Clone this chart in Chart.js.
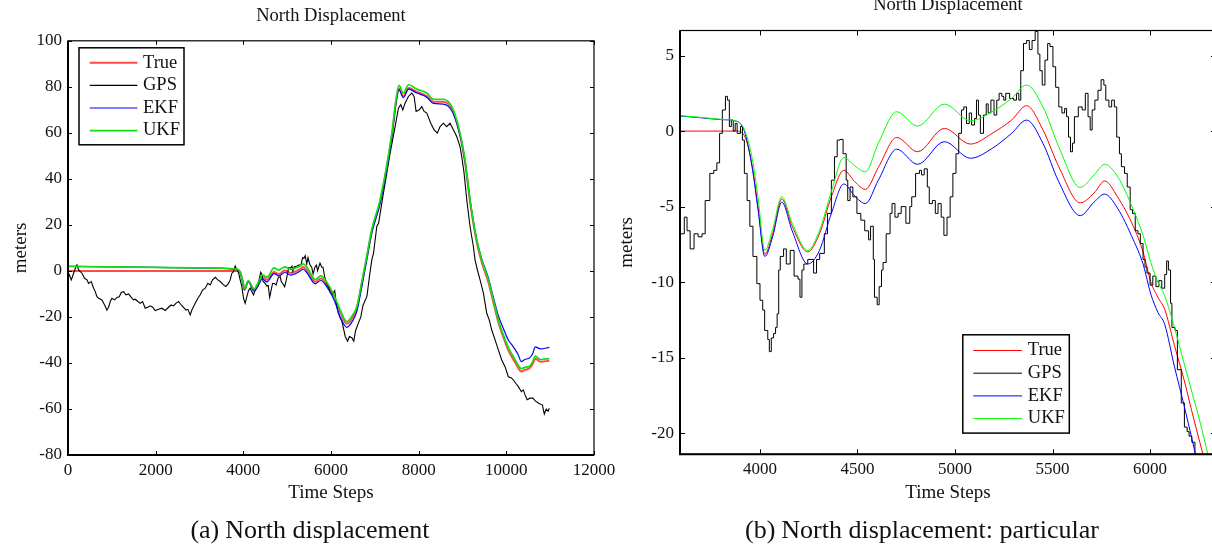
<!DOCTYPE html>
<html>
<head>
<meta charset="utf-8">
<script src="https://cdn.jsdelivr.net/npm/chart.js@4.4.1/dist/chart.umd.min.js"></script>
<style>
  html, body { margin: 0; padding: 0; background: #fff; }
  body { width: 1212px; height: 550px; overflow: hidden; position: relative; }
  canvas { position: absolute; }
  #left { left: 0; top: 0; }
  #right { left: 600px; top: -10px; }
  .cap { position: absolute; font-family: 'Liberation Serif', serif; font-size: 26px; color: #111; white-space: nowrap; transform: translate(-50%, -50%); }
  .cap span { margin-right: 6px; }
</style>
</head>
<body>
<canvas id="left" width="662" height="550"></canvas>
<canvas id="right" width="696" height="560"></canvas>
<div class="cap" style="left:310px; top:530px"><span>(a)</span>North displacement</div>
<div class="cap" style="left:922px; top:530px"><span>(b)</span>North displacement: particular</div>
<script>
const seriesLabels = ['True', 'GPS', 'EKF', 'UKF']

// left panel: whole run
const leftXTicks = [0, 2000, 4000, 6000, 8000, 10000, 12000]
const leftYTicks = [-80, -60, -40, -20, 0, 20, 40, 60, 80, 100]

const leftGpsX = [0,30,75,128,182,204,242,280,318,379,432,470,531,584,622,660,698,774,835,888,
  926,964,1002,1063,1116,1170,1215,1268,1321,1382,1443,1496,1534,1595,1648,1702,1762,1823,1876,1930,
  1990,2066,2142,2218,2294,2355,2408,2461,2522,2583,2636,2690,2735,2788,2826,2902,2963,3016,3069,3130,
  3191,3244,3298,3358,3419,3472,3548,3601,3662,3700,3738,3776,3814,3852,3890,3928,3966,4004,4042,4080,
  4118,4156,4194,4232,4270,
  4330,4366,4396,4426,4450,4497,4537,4567,4601,4631,4667,4708,4748,4798,4842,4868,4899,4943,4975,5005,
  5033,5073,5110,5130,5160,5214,5260,5315,5351,5381,5411,5447,5475,5516,5562,5592,5632,5668,5693,5749,
  5789,5817,5853,5898,5938,5984,6030,6085,6112,6160,6214,
  6250,6325,6380,6420,6475,6520,6560,6625,6680,6730,6820,6880,6931,6970,7045,7085,7196,7349,7463,7538,
  7592,7638,7690,7766,7843,7896,7941,8017,8071,8124,8185,8276,8352,8427,8488,8564,8641,8716,8792,8868,
  8944,8983,9036,9097,9172,9248,9286,9340,9401,9477,9553,9610,9667,9743,9818,9895,9970,10046,10120,10160,
  10214,10274,10344,10388,10440,10475,10540,10605,10660,10736,10790,10823,10866,10910,10953,10980]
const leftGps = [-3.2,-1.7,-3.9,-1.0,1.9,2.6,0.4,-0.3,-1.0,-3.2,-3.9,-5.4,-4.6,-7.5,-9.0,-11.2,-11.9,-12.6,-14.8,-17.0,
  -15.8,-13.3,-11.9,-12.6,-11.5,-11.2,-9.4,-9.0,-10.4,-10.0,-11.5,-12.6,-12.3,-13.3,-14.1,-13.3,-16.2,-15.8,-15.2,-15.8,
  -17.2,-16.7,-16.2,-17.2,-15.8,-14.8,-15.2,-14.1,-13.3,-14.8,-15.8,-17.0,-16.7,-19.1,-17.0,-14.1,-11.9,-10.4,-8.3,-7.5,
  -5.4,-6.1,-3.9,-2.8,-3.9,-4.6,-6.1,-6.8,-5.4,-3.9,-1.0,-0.3,2.2,0.4,-0.7,-3.9,-6.8,-11.9,-14.1,-11.2,
  -8.6,-7.5,-9.0,-10.4,-8.3,
  -6.8,-3.25,-0.6,-1.5,-4.6,-5.45,-6.6,-6.3,-11.5,-8.7,-5.45,-5.45,-6.1,-2.8,-2.5,-4.8,-5.45,-6.9,-4.35,-1.5,
  1.4,1.2,2.05,-0.15,1.8,2.05,2.5,2.5,5.8,5.4,6.6,3.05,5.8,2.9,1.5,-1.37,1.6,2.5,0.07,3.4,
  1.6,1.6,-2.36,-5.2,-6.8,-9.4,-10.3,-8.6,-13.0,-18.0,-20.6,
  -22,-28.5,-30.5,-28.5,-29,-30.5,-26,-22.7,-20,-15,-11,-2,4.8,7.7,19.3,20.7,33.8,51.2,62.7,70.7,
  72.2,70,72.9,75.8,77.3,75.8,69.3,70,71.4,69.3,68.6,64.2,61.3,59.9,62.7,64.2,62.7,64.2,61.3,58.4,
  54,49.7,42.5,30.9,19.3,10.6,4.8,0.4,-3.9,-9.7,-18.4,-21.3,-25.7,-30,-34.3,-38.7,-41.6,-46,-46.5,-47.4,
  -48.8,-50.3,-52.5,-51.7,-54.5,-56,-55.3,-55.3,-56.5,-57.5,-58,-58.3,-62.2,-60,-61,-59.7]

const leftSmoothX = [0,1000,2000,3000,3850, 3920,3990,4025,4112,4245, 4366,4430,4540,4701,4808,
  4945,5079,5290,5367,5451, 5642,5767,5914,6075,6215, 6360,6500,6590,6700,6802,
  6930,7121,7390,7480,7550, 7650,7770,7957,8185,8336, 8563,8677,8791,8944,9058,
  9172,9325,9439,9590,9704, 9818,9932,10046,10160,10274, 10340,10420,10530,10600,10660, 10780,10980]
const leftTrue = [0,0,0,0,0, -0.4,-5.0,-8.15,-4.5,-8.0, -4.35,-2.6,-3.86,-0.42,-1.37,
  0.18,-0.86,0.73,1.68,0.07, -4.75,-3.3,-6.3,-11.8,-18.0, -23.0,-20.0,-16.3,-6.0,4.0,
  17.0,30.0,59.0,73.0,79.3, 75.8,79.5,77.8,76.0,73.5, 73.5,72.5,69.0,59.0,47.3,
  30.0,12.5,3.8,-4.9,-13.6, -22.3,-28.8,-34.5,-38.5,-42.2, -43.7,-43.0,-42.3,-40.5,-38.2, -39.5,-39.0]
const leftEkf = [2.0,1.75,1.5,1.25,0.7, -0.3,-5.3,-8.3,-4.7,-8.8, -5.45,-3.5,-4.8,-1.2,-2.2,
  -0.7,-1.8,-0.15,0.73,-0.82, -5.6,-4.17,-7.2,-12.8,-20.2, -24.5,-21.5,-17.5,-7.0,3.5,
  16.5,29.5,58.5,72.5,78.8, 75.3,79.0,77.3,75.5,72.8, 72.5,71.5,68.3,58.8,47.5,
  30.8,13.5,5.2,-3.0,-11.5, -19.5,-25.0,-30.0,-33.0,-36.5, -39.4,-38.5,-37.8,-36.0,-33.0, -33.9,-33.2]
const leftUkf = [2.0,1.78,1.55,1.3,0.75, -0.2,-4.6,-7.9,-4.35,-7.9, -4.0,-1.75,-2.7,1.28,0.33,
  1.79,0.68,2.16,3.05,1.6, -3.73,-2.2,-5.2,-10.8,-17.2, -22.0,-19.0,-15.5,-5.0,5.0,
  18.0,31.0,60.0,74.0,80.6, 77.3,80.9,79.0,77.3,74.6, 74.6,73.6,70.0,59.9,48.3,
  30.9,13.5,4.8,-3.9,-12.6, -21.3,-27.8,-33.3,-37.2,-41.0, -42.5,-41.9,-41.4,-39.5,-37.0, -38.5,-38.1]

// right panel: detail around 3600..6300
const rightXTicks = [4000, 4500, 5000, 5500, 6000]
const rightYTicks = [-20, -15, -10, -5, 0, 5]

const rightGpsX = [3592,3612,3626,3642,3662,3683,3703,3719,3743,3763, 3779,3793,3807,3823,3833,3843,3853,3863,3873,3883,
  3900,3910,3920,3934,3948,3964,3984,4000,4014,4024, 4040,4048,4058,4070,4080,4088,4096,4104,4121,4135,
  4155,4175,4195,4205,4215,4225,4245,4275,4290,4306, 4330,4346,4366,4382,4396,4410,4426,4442,4450,4462,
  4476,4497,4517,4537,4557,4567,4581,4587,4601,4611, 4623,4631,4647,4667,4677,4692,4708,4724,4748,4768,
  4778,4798,4818,4828,4842,4858,4868,4884,4899,4913, 4929,4943,4959,4975,4989,5005,5019,5033,5045,5059,
  5073,5085,5100,5110,5120,5130,5146,5160,5170,5184, 5200,5214,5226,5240,5250,5260,5280,5301,5315,5327,
  5337,5351,5367,5381,5395,5411,5425,5435,5447,5461, 5475,5487,5502,5516,5532,5548,5562,5572,5582,5592,
  5602,5612,5632,5652,5668,5682,5693,5703,5717,5733, 5749,5763,5773,5789,5803,5817,5829,5843,5853,5869,
  5883,5898,5910,5924,5938,5950,5964,5974,5984,6000, 6014,6030,6045,6060,6075,6085,6094,6105,6112,6128,
  6140,6160,6176,6190,6200,6214,6230,6245,6340]
const rightGps = [-6.8,-5.7,-6.6,-7.8,-6.8,-7.0,-6.8,-4.6,-2.8,-2.6, -2.1,-0.15,1.4,2.3,2.05,0.3,0.73,0,0.5,-0.15,
  0.3,-0.6,-2.8,-4.6,-6.3,-8.3,-10.1,-11.2,-11.85,-13.2, -13.8,-14.6,-13.7,-13.4,-13.0,-12.1,-9.2,-8.3,-7.8,-8.8,
  -7.9,-9.6,-9.8,-11.0,-9.2,-8.8,-8.5,-9.4,-8.5,-8.1, -6.8,-5.45,-3.25,-1.7,-0.6,-0.55,-1.5,-3.25,-4.6,-3.7,
  -4.35,-5.45,-5.9,-6.6,-7.2,-6.3,-8.5,-11.0,-11.5,-10.3, -9.2,-8.7,-6.8,-5.45,-4.8,-5.7,-5.45,-5.0,-6.1,-5.0,
  -4.35,-2.8,-2.6,-2.9,-2.5,-3.7,-4.8,-4.6,-5.45,-4.8, -5.7,-6.9,-5.7,-4.35,-2.8,-1.5,-0.15,1.4,1.6,0.5,
  1.2,0.4,0.84,2.05,1.06,-0.15,1.06,1.8,1.2,2.05, 1.06,2.05,2.5,2.3,2.05,2.5,2.16,2.05,2.5,2.05,
  4.0,5.8,6.0,5.4,6.0,6.6,5.1,4.0,3.05,4.7, 5.8,5.6,4.26,2.9,1.6,1.2,1.5,0.95,-0.4,-1.37,
  -0.8,0.95,1.6,1.4,2.5,0.95,0.07,1.4,2.05,2.7, 3.4,3.05,2.05,1.6,2.05,1.6,-0.4,-1.5,-2.36,-2.8,
  -3.7,-5.2,-5.45,-6.6,-6.8,-7.45,-8.5,-9.0,-9.4,-10.2, -9.6,-10.3,-9.9,-10.4,-9.5,-8.6,-9.2,-11.4,-13.0,-13.2,
  -15.8,-18.0,-19.6,-19.9,-20.2,-20.6,-21.4,-22.5,-22.5]

const rightSmoothX = [3590,3700,3800,3880,3920, 3960,3990,4025,4065,4112, 4165,4245,4305,4366,4430,
  4486,4540,4607,4701,4808, 4945,5079,5190,5290,5367, 5451,5532,5642,5713,5767,
  5833,5914,5964,6004,6040, 6075,6125,6175,6215,6255, 6300,6340]
const rightTrue = [0,0,0,0,-0.3, -2.3,-5.0,-8.15,-6.8,-4.5, -6.3,-8.0,-6.8,-4.35,-2.6,
  -3.35,-3.86,-2.4,-0.42,-1.37, 0.18,-0.86,-0.15,0.73,1.68, 0.07,-2.36,-4.75,-4.1,-3.3,
  -4.35,-6.3,-8.0,-10.0,-11.0, -11.8,-14.2,-16.5,-18.6,-20.6, -22.8,-25.0]
const rightEkf = [1.0,0.88,0.76,0.65,0.0, -2.4,-5.2,-8.3,-7.0,-4.7, -6.6,-8.8,-7.9,-5.45,-3.5,
  -4.3,-4.8,-3.25,-1.2,-2.2, -0.7,-1.8,-1.15,-0.15,0.73, -0.82,-3.36,-5.6,-4.7,-4.17,
  -5.1,-7.2,-8.8,-10.8,-12.0, -12.8,-15.6,-18.2,-20.4,-22.6, -25.0,-27.0]
const rightUkf = [1.02,0.9,0.78,0.65,0.1, -1.8,-4.4,-7.9,-6.5,-4.35, -6.1,-7.9,-6.6,-4.0,-1.75,
  -2.3,-2.7,-0.8,1.28,0.33, 1.79,0.68,1.28,2.16,3.05, 1.6,-1.04,-3.73,-2.9,-2.2,
  -3.0,-5.2,-6.9,-8.7,-10.0, -10.9,-13.0,-15.4,-17.3,-19.2, -21.6,-23.6]

Chart.defaults.font.family = "'Liberation Serif', 'Times New Roman', serif"
Chart.defaults.color = '#111'

function xy(xs, ys) {
  return xs.map((x, i) => ({ x, y: ys[i] }))
}

// centre the title over the plot box, not over the whole canvas
const titleOverPlot = {
  id: 'titleOverPlot',
  afterLayout(chart) {
    const t = chart.titleBlock
    if (!t) return
    t.left = chart.chartArea.left
    t.right = chart.chartArea.right
    t.width = t.right - t.left
  }
}

// box with inward ticks on all four sides, like the matlab axes
const matlabFrame = {
  id: 'matlabFrame',
  afterDatasetsDraw(chart, args, o) {
    const { ctx, chartArea: a } = chart
    const xs = chart.scales.x
    const ys = chart.scales.y
    ctx.save()
    ctx.strokeStyle = '#000'
    ctx.lineWidth = 1
    ctx.beginPath()
    for (const t of xs.ticks) {
      const px = Math.round(xs.getPixelForValue(t.value)) + 0.5
      ctx.moveTo(px, a.bottom); ctx.lineTo(px, a.bottom - o.tick)
      ctx.moveTo(px, a.top); ctx.lineTo(px, a.top + o.tick)
    }
    for (const t of ys.ticks) {
      const py = Math.round(ys.getPixelForValue(t.value)) + 0.5
      ctx.moveTo(a.left, py); ctx.lineTo(a.left + o.tick, py)
      ctx.moveTo(a.right, py); ctx.lineTo(a.right - o.tick, py)
    }
    ctx.stroke()
    ctx.lineWidth = 1.2
    ctx.strokeRect(a.left, a.top, a.right - a.left, a.bottom - a.top)
    ctx.lineWidth = 2
    ctx.beginPath()
    ctx.moveTo(a.left, a.top)
    ctx.lineTo(a.left, a.bottom)
    ctx.lineTo(a.right, a.bottom)
    ctx.stroke()
    ctx.restore()
  }
}

const boxLegend = {
  id: 'boxLegend',
  afterDatasetsDraw(chart, args, o) {
    const { ctx, chartArea: a } = chart
    const bx = a.left + o.x
    const by = a.top + o.y
    ctx.save()
    ctx.fillStyle = '#fff'
    ctx.fillRect(bx, by, o.w, o.h)
    ctx.strokeStyle = '#000'
    ctx.lineWidth = 1.5
    ctx.strokeRect(bx, by, o.w, o.h)
    ctx.font = o.font
    ctx.textBaseline = 'middle'
    chart.data.datasets.forEach((ds, i) => {
      const ry = by + o.row0 + i * o.rowGap
      ctx.strokeStyle = ds.borderColor
      ctx.lineWidth = ds.borderWidth
      ctx.beginPath()
      ctx.moveTo(bx + o.line0, ry)
      ctx.lineTo(bx + o.line1, ry)
      ctx.stroke()
      ctx.fillStyle = '#111'
      ctx.fillText(ds.label, bx + o.text, ry)
    })
    ctx.restore()
  }
}

function axis(min, max, tickVals, pad, extra) {
  return Object.assign({
    type: 'linear',
    min: min,
    max: max,
    afterBuildTicks: s => { s.ticks = tickVals.map(v => ({ value: v })) },
    grid: { display: false, drawTicks: false },
    border: { display: false },
    ticks: { color: '#111', font: { size: 17 }, padding: pad, callback: v => String(v) }
  }, extra)
}

function makePanel(id, sets, o) {
  return new Chart(document.getElementById(id), {
    type: 'line',
    data: { datasets: sets },
    plugins: [titleOverPlot, matlabFrame, boxLegend],
    options: {
      responsive: false,
      animation: false,
      events: [],
      devicePixelRatio: 1,
      layout: { padding: { left: 0, right: o.padRight, top: 0, bottom: 0 } },
      elements: { point: { radius: 0 } },
      scales: {
        x: axis(o.xMin, o.xMax, o.xTicks, 5, {
          afterFit: s => { s.height = o.xHeight },
          title: { display: true, text: 'Time Steps', color: '#111', font: { size: 19 }, padding: { top: 0, bottom: 45.6 } }
        }),
        y: axis(o.yMin, o.yMax, o.yTicks, 6, {
          afterFit: s => { s.width = o.yWidth },
          title: { display: true, text: 'meters', color: '#111', font: { size: 19 }, padding: { top: o.yTitlePad, bottom: 0 } }
        })
      },
      plugins: {
        legend: { display: false },
        tooltip: { enabled: false },
        title: {
          display: true,
          text: 'North Displacement',
          color: '#111',
          font: { size: 18.5, weight: 'normal' },
          padding: o.titlePad
        },
        matlabFrame: { tick: o.tick },
        boxLegend: o.legend
      }
    }
  })
}

makePanel('left', [
  { label: seriesLabels[0], data: xy(leftSmoothX, leftTrue), borderColor: '#ff4a4a', borderWidth: 2, cubicInterpolationMode: 'monotone', order: 3 },
  { label: seriesLabels[1], data: xy(leftGpsX, leftGps), borderColor: '#000000', borderWidth: 1.1, order: 2 },
  { label: seriesLabels[2], data: xy(leftSmoothX, leftEkf), borderColor: '#0000ff', borderWidth: 1.2, cubicInterpolationMode: 'monotone', order: 1 },
  { label: seriesLabels[3], data: xy(leftSmoothX, leftUkf), borderColor: '#10e010', borderWidth: 1.7, cubicInterpolationMode: 'monotone', order: 0 }
], {
  xMin: 0, xMax: 12000, xTicks: leftXTicks,
  yMin: -80, yMax: 100, yTicks: leftYTicks,
  padRight: 68, xHeight: 95, yWidth: 68, yTitlePad: 9.6,
  titlePad: { top: 4.8, bottom: 13.8 },
  tick: 4,
  legend: { x: 11, y: 7, w: 105, h: 97, row0: 15, rowGap: 22.6, line0: 10.7, line1: 58.4, text: 64, font: "18.5px 'Liberation Serif'" }
})

makePanel('right', [
  { label: seriesLabels[0], data: xy(rightSmoothX, rightTrue), borderColor: '#ff0000', borderWidth: 1, cubicInterpolationMode: 'monotone', order: 3 },
  { label: seriesLabels[1], data: xy(rightGpsX, rightGps), borderColor: '#000000', borderWidth: 1, stepped: true, order: 2 },
  { label: seriesLabels[2], data: xy(rightSmoothX, rightEkf), borderColor: '#0000ff', borderWidth: 1, cubicInterpolationMode: 'monotone', order: 1 },
  { label: seriesLabels[3], data: xy(rightSmoothX, rightUkf), borderColor: '#00ff00', borderWidth: 1, cubicInterpolationMode: 'monotone', order: 0 }
], {
  xMin: 3590, xMax: 6338, xTicks: rightXTicks,
  yMin: -21.4, yMax: 6.66, yTicks: rightYTicks,
  padRight: 80, xHeight: 95.7, yWidth: 80, yTitlePad: 15.6,
  titlePad: { top: 4.3, bottom: 14 },
  tick: 5,
  legend: { x: 282.8, y: 304.3, w: 106.5, h: 98.3, row0: 15.7, rowGap: 22.7, line0: 10.5, line1: 59.2, text: 65, font: "18.5px 'Liberation Serif'" }
})
</script>
</body>
</html>
